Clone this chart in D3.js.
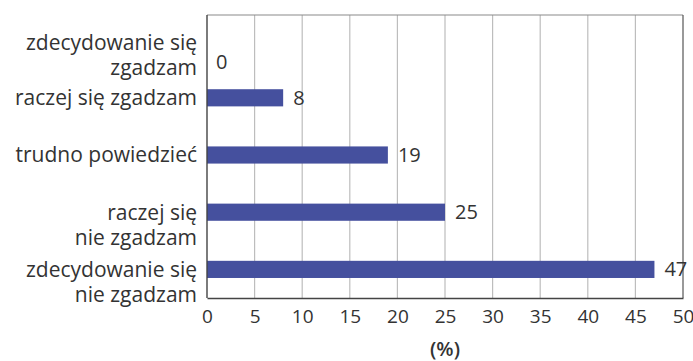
<!DOCTYPE html>
<html>
<head>
<meta charset="utf-8">
<script src="https://cdn.jsdelivr.net/npm/d3@7"></script>
<style>
  html, body { margin: 0; padding: 0; background: #fff; }
  svg text { font-family: "Open Sans", "Noto Sans", sans-serif; fill: #333; }
</style>
</head>
<body>
<svg id="chart" width="693" height="361"></svg>
<script>
// Survey answers (top to bottom) and their shares in percent
const categories = [
  ["zdecydowanie się", "zgadzam"],
  ["raczej się zgadzam"],
  ["trudno powiedzieć"],
  ["raczej się", "nie zgadzam"],
  ["zdecydowanie się", "nie zgadzam"]
];
const values = [0, 8, 19, 25, 47];
const xTicks = [0, 5, 10, 15, 20, 25, 30, 35, 40, 45, 50];
const axisTitle = "(%)";

const svg = d3.select("#chart");
const margin = { left: 207, right: 10, top: 15, bottom: 63 };
const W = 693, H = 361;
const x0 = margin.left, x1 = W - margin.right;
const y0 = margin.top, y1 = H - margin.bottom;

const x = d3.scaleLinear().domain([0, 50]).range([x0, x1]);
const y = d3.scaleBand().domain(d3.range(categories.length)).range([y0 - 3, y1]).paddingInner(0.7).paddingOuter(0.35);

const rows = categories.map((c, i) => ({ lines: c, value: values[i], i }));

// vertical gridlines
svg.append("g").selectAll("line").data(xTicks.slice(1, -1)).join("line")
  .attr("x1", d => x(d)).attr("x2", d => x(d))
  .attr("y1", y0).attr("y2", y1)
  .attr("stroke", "#bdbdbd").attr("stroke-width", 1.2);

// frame
svg.append("line").attr("x1", x0).attr("x2", x1).attr("y1", y0).attr("y2", y0)
  .attr("stroke", "#8a8a8a").attr("stroke-width", 1.2);
svg.append("line").attr("x1", x1).attr("x2", x1).attr("y1", y0).attr("y2", y1)
  .attr("stroke", "#555").attr("stroke-width", 1.2);

// bars
svg.append("g").selectAll("rect").data(rows).join("rect")
  .attr("x", x(0))
  .attr("y", d => y(d.i))
  .attr("width", d => x(d.value) - x(0))
  .attr("height", y.bandwidth())
  .attr("fill", "#45509e");

// value labels
svg.append("g").selectAll("text").data(rows).join("text")
  .attr("x", d => x(d.value) + (d.value === 0 ? 9 : 10))
  .attr("y", d => y(d.i) + y.bandwidth() / 2 + (d.value === 0 ? 21 : 0))
  .attr("dy", "0.35em")
  .attr("font-size", 20)
  .text(d => d.value);

// category labels: first line aligned with the bar
const cat = svg.append("g").selectAll("text").data(rows).join("text")
  .attr("text-anchor", "end")
  .attr("font-size", 21)
  .attr("x", x0 - 10)
  .attr("y", d => y(d.i) + y.bandwidth() / 2 + (d.i === 0 ? 2 : 0));
cat.selectAll("tspan").data(d => d.lines).join("tspan")
  .attr("x", x0 - 10)
  .attr("dy", (d, j) => j === 0 ? "0.35em" : "25")
  .text(d => d);

// x axis
const xAxis = d3.axisBottom(x).tickValues(xTicks).tickSize(0).tickPadding(12);
const gx = svg.append("g").attr("transform", `translate(0,${y1})`).call(xAxis);
gx.select(".domain").attr("stroke", "#444").attr("stroke-width", 1.4);
gx.selectAll("text").attr("font-size", 19).style("font-family", "'Open Sans', sans-serif").attr("fill", "#333");

// y axis line
svg.append("line").attr("x1", x0).attr("x2", x0).attr("y1", y0).attr("y2", y1)
  .attr("stroke", "#444").attr("stroke-width", 1.4);

svg.append("text")
  .attr("x", (x0 + x1) / 2).attr("y", 349).attr("dy", "0.35em")
  .attr("text-anchor", "middle")
  .attr("font-size", 20).attr("font-weight", 600)
  .text(axisTitle);
</script>
</body>
</html>
